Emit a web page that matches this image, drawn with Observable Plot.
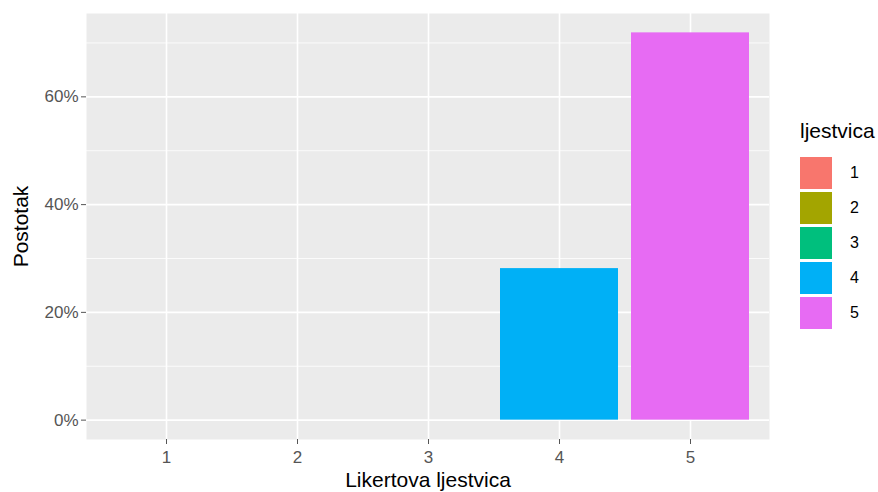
<!DOCTYPE html>
<html>
<head>
<meta charset="utf-8">
<script src="https://cdn.jsdelivr.net/npm/d3@7"></script>
<script src="https://cdn.jsdelivr.net/npm/@observablehq/plot@0.6"></script>
<style>
  html, body { margin: 0; padding: 0; background: white; }
  #wrap { position: relative; width: 878px; height: 492px; font-family: "Liberation Sans", Arial, sans-serif; }
  #legend { position: absolute; left: 800px; top: 117px; }
  #legend .title { font-size: 21px; color: #000; height: 38px; line-height: 28px; }
  #legend .row { display: flex; align-items: center; height: 35px; }
  #legend .key { width: 32px; height: 32px; margin-right: 18px; }
  #legend .lab { font-size: 16px; color: #000; }
</style>
</head>
<body>
<div id="wrap"></div>
<script>
const categories = ["1", "2", "3", "4", "5"];
const values = [0, 0, 0, 0.28125, 0.71875];
const colors = ["#F8766D", "#A3A500", "#00BF7D", "#00B0F6", "#E76BF3"];
const yMajorTicks = [0, 0.2, 0.4, 0.6];
const yMinorTicks = [0.1, 0.3, 0.5, 0.7];
const xTitle = "Likertova ljestvica";
const yTitle = "Postotak";
const legendTitle = "ljestvica";

const data = categories.map((c, i) => ({ljestvica: c, postotak: values[i]}));
const ymax = d3.max(values);

const chart = Plot.plot({
  width: 878,
  height: 492,
  marginLeft: 86,
  marginRight: 109,
  marginTop: 13,
  marginBottom: 53,
  style: {fontFamily: "Liberation Sans, Arial, sans-serif", background: "white", overflow: "visible"},
  x: {type: "band", domain: categories, paddingInner: 0.1, paddingOuter: 0.15, align: 0.5},
  y: {domain: [-0.05 * ymax, 1.05 * ymax]},
  color: {domain: categories, range: colors},
  marks: [
    Plot.frame({fill: "#EBEBEB", stroke: null}),
    Plot.gridY(yMinorTicks, {stroke: "white", strokeOpacity: 1, strokeWidth: 0.8}),
    Plot.gridY(yMajorTicks, {stroke: "white", strokeOpacity: 1, strokeWidth: 1.6}),
    Plot.gridX(categories, {stroke: "white", strokeOpacity: 1, strokeWidth: 1.6}),
    Plot.barY(data.filter(d => d.postotak > 0), {x: "ljestvica", y: "postotak", fill: "ljestvica"}),
    Plot.axisX(categories, {tickSize: 5, tickPadding: 6, fontSize: 17, color: "#555555", label: null}),
    Plot.axisY(yMajorTicks, {tickSize: 5, tickPadding: 3, fontSize: 17, color: "#555555", tickFormat: d3.format(".0%"), label: null}),
    Plot.text([xTitle], {frameAnchor: "bottom", dy: 41, fontSize: 21, fill: "#000", lineAnchor: "middle", textAnchor: "middle"}),
    Plot.text([yTitle], {frameAnchor: "left", dx: -65, rotate: -90, fontSize: 21, fill: "#000", lineAnchor: "middle", textAnchor: "middle"})
  ]
});

const wrap = document.getElementById("wrap");
wrap.appendChild(chart);

const legend = document.createElement("div");
legend.id = "legend";
const t = document.createElement("div");
t.className = "title";
t.textContent = legendTitle;
legend.appendChild(t);
categories.forEach((c, i) => {
  const row = document.createElement("div");
  row.className = "row";
  const k = document.createElement("div");
  k.className = "key";
  k.style.background = colors[i];
  const l = document.createElement("span");
  l.className = "lab";
  l.textContent = c;
  row.appendChild(k);
  row.appendChild(l);
  legend.appendChild(row);
});
wrap.appendChild(legend);
</script>
</body>
</html>
